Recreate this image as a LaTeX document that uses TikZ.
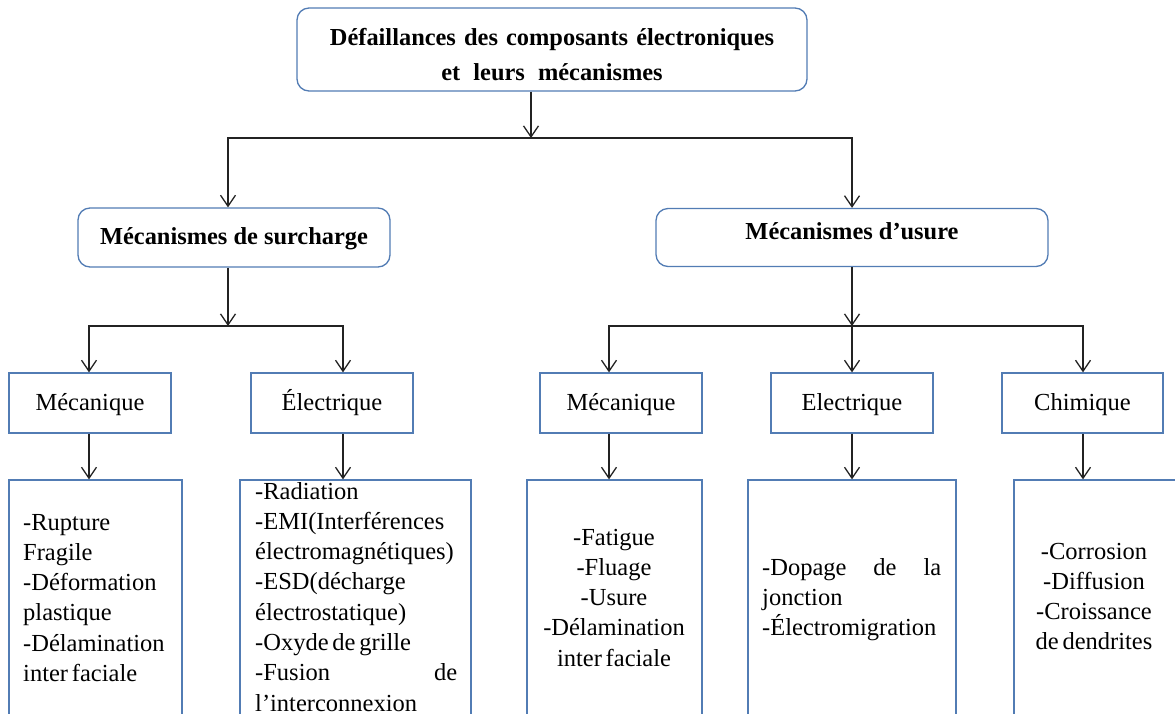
\documentclass[tikz,border=0pt]{standalone}
\usepackage{fontspec}
\setmainfont{Liberation Serif}
\usetikzlibrary{arrows.meta}
\definecolor{boxblue}{RGB}{82,124,180}
\definecolor{linegray}{RGB}{35,35,35}
\newcommand{\tightwords}{\spaceskip=3.8pt\relax}
\begin{document}
\begin{tikzpicture}[x=1pt,y=-1pt,
  txt/.style={font=\fontsize{24.5}{30.3}\selectfont},
  boldtxt/.style={font=\bfseries\fontsize{24.4}{35}\selectfont},
  roundbox/.style={draw=boxblue,line width=1.3pt,rounded corners=12pt,fill=white,inner sep=0pt},
  catbox/.style={draw=boxblue,line width=1.3pt,inner sep=0pt,txt,minimum height=60pt,text height=17pt,text depth=3pt},
  listbox/.style={draw=boxblue,line width=1.3pt,inner sep=0pt,minimum height=280pt},
  listtxt/.style={txt,inner sep=0pt,execute at begin node=\tightwords},
  link/.style={draw=linegray,line width=1.3pt},
  arr/.style={link,-{Straight Barb[length=11pt,width=15pt,line width=1.3pt]}},
]
\useasboundingbox (0,0) rectangle (1175,713);
\clip (0,0) rectangle (1175,713);

% level 0
\node[roundbox,boldtxt,minimum width=510pt,minimum height=83pt,text width=500pt,align=center,text height=17pt,text depth=26pt] (top) at (552,49.5)
  {Défaillances des composants électroniques\\et\hspace{5pt} leurs\hspace{5pt} mécanismes};

% level 1
\node[roundbox,boldtxt,minimum width=312pt,minimum height=59pt,text height=17pt,text depth=3pt] (sur) at (234,237.5) {Mécanismes de surcharge};
\node[roundbox,boldtxt,minimum width=392pt,minimum height=58pt,text height=17pt,text depth=14pt] (usu) at (852,237.5) {Mécanismes d’usure};

% level 2
\node[catbox,minimum width=162pt] (m1) at (90,403) {Mécanique};
\node[catbox,minimum width=162pt] (e1) at (332,403) {Électrique};
\node[catbox,minimum width=162pt] (m2) at (621,403) {Mécanique};
\node[catbox,minimum width=162pt] (e2) at (852,403) {Electrique};
\node[catbox,minimum width=161pt] (c2) at (1082.5,403) {Chimique};

% level 3 boxes
\node[listbox,minimum width=173pt] (L1) at (95.5,620) {};
\node[listbox,minimum width=231pt] (L2) at (355.5,620) {};
\node[listbox,minimum width=175pt] (L3) at (614.5,620) {};
\node[listbox,minimum width=208pt] (L4) at (852,620) {};
\node[listbox,minimum width=176pt] (L5) at (1102,620) {};

% level 3 texts
\node[listtxt,text width=160pt,align=left,anchor=base west] (L1t) at (23,530)
  {-Rupture\\Fragile\\-Déformation\\plastique\\-Délamination\\inter faciale};
\node[listtxt,text width=202pt,align=left,anchor=base west] (L2t) at (255,499)
  {-Radiation\\-EMI(Interférences\\électromagnétiques)\\-ESD(décharge\\électrostatique)\\-Oxyde de grille\\-Fusion\hfill de\\l’interconnexion};
\node[listtxt,text width=170pt,align=center,anchor=base] (L3t) at (614,545)
  {-Fatigue\\-Fluage\\-Usure\\-Délamination\\inter faciale};
\node[listtxt,text width=179pt,align=left,anchor=base west] (L4t) at (762,575)
  {-Dopage\hfill de\hfill la\\jonction\\-Électromigration};
\node[listtxt,text width=150pt,align=center,anchor=base] (L5t) at (1094,559)
  {-Corrosion\\-Diffusion\\-Croissance\\de dendrites};

% junctions
\coordinate (j0) at (531,138);
\coordinate (j0l) at (228,138);
\coordinate (j0r) at (852,138);
\coordinate (j1) at (228,326);
\coordinate (j1l) at (89,326);
\coordinate (j1r) at (343,326);
\coordinate (j2) at (852,326);
\coordinate (j2l) at (609,326);
\coordinate (j2r) at (1083,326);

% connectors level 0 -> 1
\draw[arr] (top.south -| j0) -- (j0);
\draw[link,line cap=rect] (j0l) -- (j0r);
\draw[arr] (j0l) -- (j0l |- sur.north);
\draw[arr] (j0r) -- (j0r |- usu.north);

% connectors level 1 -> 2
\draw[arr] (sur.south -| j1) -- (j1);
\draw[link,line cap=rect] (j1l) -- (j1r);
\draw[arr] (j1l) -- (j1l |- m1.north);
\draw[arr] (j1r) -- (j1r |- e1.north);

\draw[arr] (usu.south -| j2) -- (j2);
\draw[link,line cap=rect] (j2l) -- (j2r);
\draw[arr] (j2l) -- (j2l |- m2.north);
\draw[arr] (j2) -- (j2 |- e2.north);
\draw[arr] (j2r) -- (j2r |- c2.north);

% connectors level 2 -> 3
\draw[arr] (m1.south -| j1l) -- (j1l |- L1.north);
\draw[arr] (e1.south -| j1r) -- (j1r |- L2.north);
\draw[arr] (m2.south -| j2l) -- (j2l |- L3.north);
\draw[arr] (e2.south -| j2) -- (j2 |- L4.north);
\draw[arr] (c2.south -| j2r) -- (j2r |- L5.north);
\end{tikzpicture}
\end{document}
